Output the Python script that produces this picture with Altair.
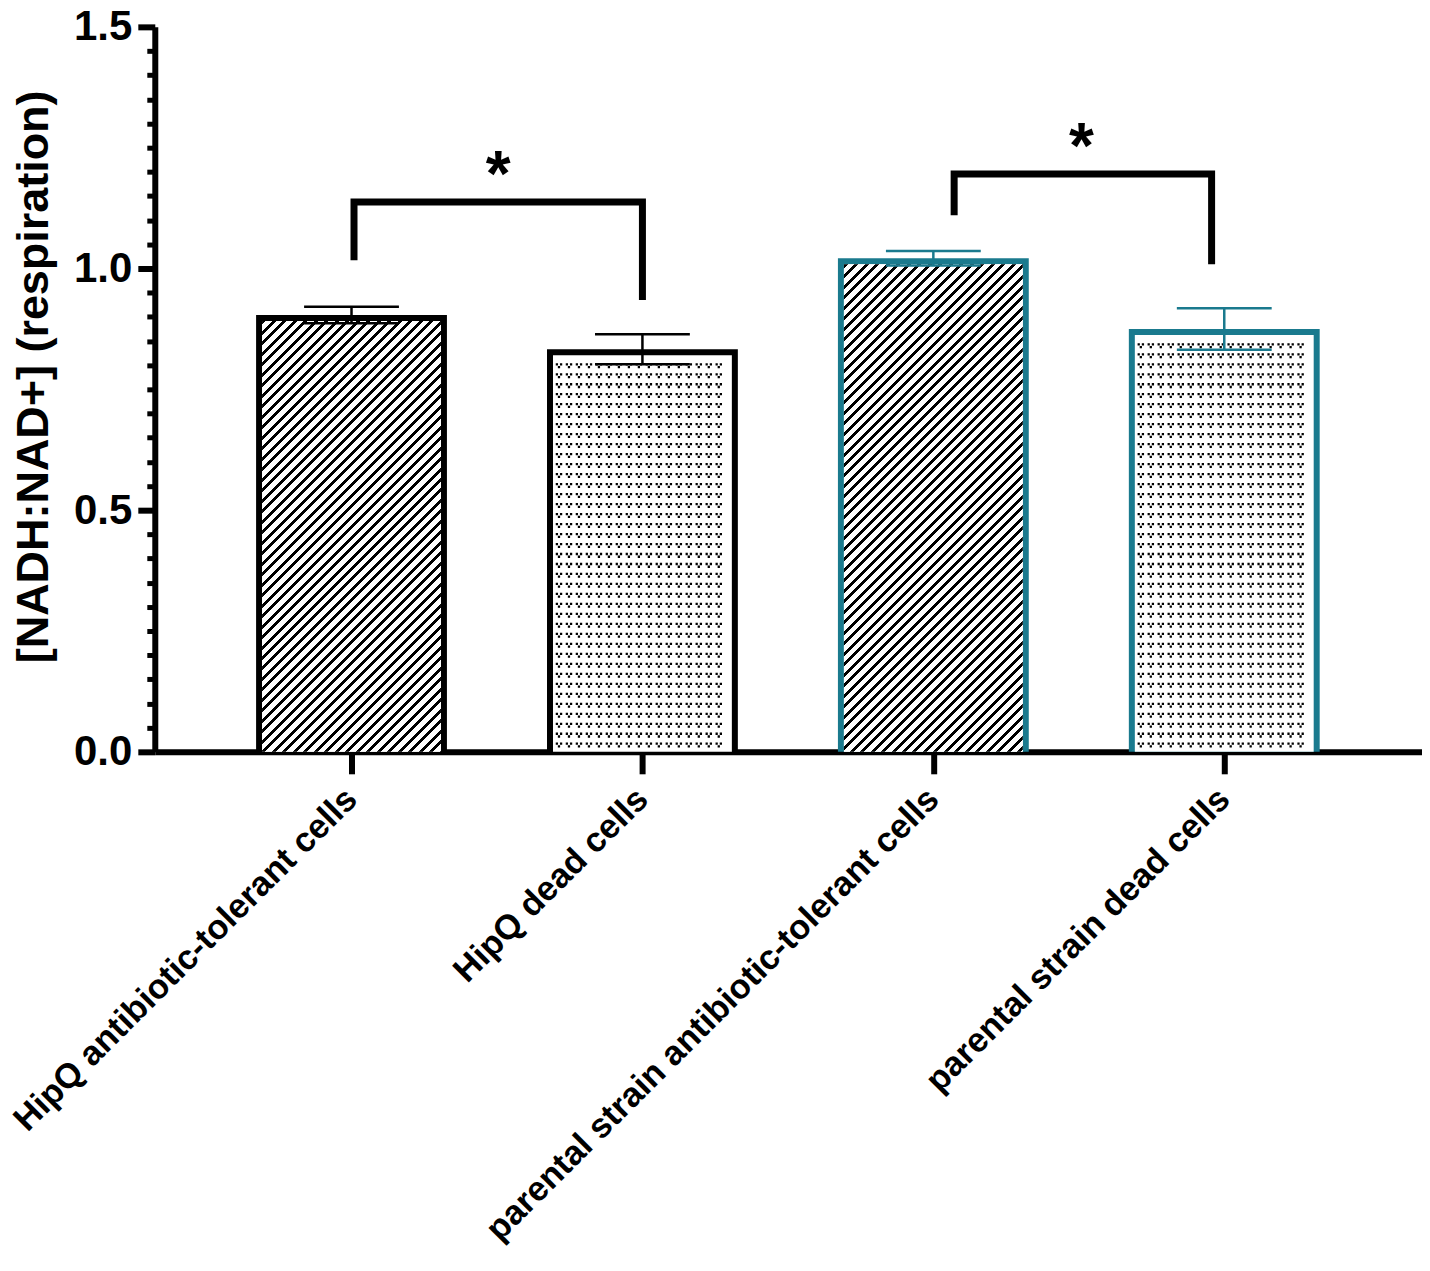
import altair as alt
import pandas as pd
import numpy as np

# ---------------- data ----------------
categories = [
    "HipQ antibiotic-tolerant cells",
    "HipQ dead cells",
    "parental strain antibiotic-tolerant cells",
    "parental strain dead cells",
]
positions = [1, 2, 3, 4]
means = [0.904, 0.833, 1.021, 0.875]
errors = [0.017, 0.031, 0.015, 0.043]
bar_colors = ["#000000", "#000000", "#1a7a8e", "#1a7a8e"]
patterns = ["hatch", "dots", "hatch", "dots"]

bracket_ids = ["a", "b"]
bracket_x_left = [1.0086, 3.0715]
bracket_x_right = [2.0, 3.9565]
bracket_y_top = [1.1374, 1.1957]
bracket_y_left = [1.0172, 1.110]
bracket_y_right = [0.9348, 1.009]
star_x = [1.5046, 3.509]
star_text = ["*", "*"]

y_major = [0.0, 0.5, 1.0, 1.5]
y_minor = [round(i * 0.05, 2) for i in range(31) if i % 10]

# ---------------- layout ----------------
W, H = 1269, 726
XDOM = [0.3238, 4.6797]
YDOM = [0, 1.5]
PXX = W / (XDOM[1] - XDOM[0])
PXY = H / (YDOM[1] - YDOM[0])
BAR_HALF = 0.328
CAP_HALF = 0.163
STROKE = 6
FONT = "Liberation Sans"

xs = alt.Scale(domain=XDOM, nice=False, zero=False)
ys = alt.Scale(domain=YDOM, nice=False, zero=False)

bars = pd.DataFrame({
    "cat": categories, "pos": positions, "mean": means, "err": errors,
    "color": bar_colors, "pattern": patterns,
})
bars["x_lo"] = bars["pos"] - BAR_HALF
bars["x_hi"] = bars["pos"] + BAR_HALF
bars["c_lo"] = bars["pos"] - CAP_HALF
bars["c_hi"] = bars["pos"] + CAP_HALF
bars["e_lo"] = bars["mean"] - bars["err"]
bars["e_hi"] = bars["mean"] + bars["err"]
bars["zero"] = 0.0

label_expr = " : ".join(f"datum.value == {p} ? '{c}'" for p, c in zip(positions, categories)) + " : ''"

x_axis = alt.Axis(
    values=positions, labelExpr=label_expr, title=None, grid=False, orient="bottom",
    domainColor="black", domainWidth=6, tickColor="black", tickWidth=6, tickSize=22,
    labelAngle=-45, labelAlign="right", labelBaseline="middle",
    labelFont=FONT, labelFontSize=34.5, labelFontWeight="bold", labelColor="black",
    labelPadding=20, labelOverlap=False, labelFlush=False, labelBound=False, labelLimit=0,
)
y_axis_major = alt.Axis(
    values=y_major, format=".1f", title="[NADH:NAD+] (respiration)", grid=False, orient="left",
    domainColor="black", domainWidth=6, tickColor="black", tickWidth=6, tickSize=17,
    labelFont=FONT, labelFontSize=42, labelFontWeight="bold", labelColor="black", labelPadding=6,
    titleFont=FONT, titleFontSize=45, titleFontWeight="bold", titleColor="black", titlePadding=17,
    titleY=350, labelOverlap=False, labelFlush=False,
)
y_axis_minor = alt.Axis(
    values=y_minor, labels=False, title=None, grid=False, orient="left", domain=False,
    tickColor="black", tickWidth=5, tickSize=8,
)

base = alt.Chart(bars)

# outer rect (acts as the border colour)
outer = base.mark_rect().encode(
    x=alt.X("x_lo:Q", scale=xs, axis=None),
    x2="x_hi:Q",
    y=alt.Y("mean:Q", scale=ys, axis=y_axis_minor),
    y2="zero:Q",
    fill=alt.Color("color:N", scale=None),
)

# inner white fill for all bars
inner = base.mark_rect(
    fill="white", xOffset=STROKE, x2Offset=-STROKE, yOffset=STROKE
).encode(
    x=alt.X("x_lo:Q", scale=xs, axis=None),
    x2="x_hi:Q",
    y=alt.Y("mean:Q", scale=ys, axis=y_axis_major),
    y2="zero:Q",
)

layers = [outer, inner]

# hatch fills via striped gradient (45 degree lines)
SPACING = 10.5   # horizontal px between hatch lines
LINE = 4.0       # thickness in (x+y) units
for i in range(len(positions)):
    if patterns[i] != "hatch":
        continue
    w = 2 * BAR_HALF * PXX - 2 * STROKE
    h = means[i] * PXY - STROKE
    denom = w * w + h * h
    period = SPACING * w / denom
    thick = LINE * w / denom
    tmax = (w + h) * w / denom
    stops = []
    k = 0
    while k * period <= tmax + period:
        t0 = k * period
        if t0 > 1:
            break
        stops.append({"offset": min(t0, 1.0), "color": "#000000"})
        stops.append({"offset": min(t0 + thick, 1.0), "color": "#000000"})
        stops.append({"offset": min(t0 + thick, 1.0), "color": "#ffffff"})
        stops.append({"offset": min(t0 + period, 1.0), "color": "#ffffff"})
        k += 1
    grad = {"gradient": "linear", "x1": 0, "y1": 0, "x2": 1, "y2": h / w, "stops": stops}
    one = bars.iloc[[i]]
    layers.append(
        alt.Chart(one).mark_rect(
            fill=grad, xOffset=STROKE, x2Offset=-STROKE, yOffset=STROKE
        ).encode(
            x=alt.X("x_lo:Q", scale=xs, axis=None),
            x2="x_hi:Q",
            y=alt.Y("mean:Q", scale=ys, axis=None),
            y2="zero:Q",
        )
    )

# dotted fills: small "v" motifs of three squares
MOTIF = ("M-1,-1H-0.3V-0.3H-1Z M0.3,-1H1V-0.3H0.3Z M-0.35,-0.15H0.35V0.55H-0.35Z")
DOT_STEP = 10
dot_rows = []
for i in range(len(positions)):
    if patterns[i] != "dots":
        continue
    x_lo = positions[i] - BAR_HALF
    x_hi = positions[i] + BAR_HALF
    xv = x_lo + (STROKE + 6) / PXX
    while xv <= x_hi - (STROKE + 5) / PXX:
        yv = 6 / PXY
        while yv <= means[i] - (STROKE + 5) / PXY:
            dot_rows.append({"dx": xv, "dy": yv})
            yv += DOT_STEP / PXY
        xv += DOT_STEP / PXX
dots = alt.Chart(pd.DataFrame(dot_rows)).mark_point(
    shape=MOTIF, filled=True, size=42, color="black", opacity=1, strokeWidth=0
).encode(
    x=alt.X("dx:Q", scale=xs, axis=None),
    y=alt.Y("dy:Q", scale=ys, axis=None),
)
layers.append(dots)

# error bars
err_v = base.mark_rule(strokeWidth=2.5).encode(
    x=alt.X("pos:Q", scale=xs, axis=None),
    y=alt.Y("e_lo:Q", scale=ys, axis=None),
    y2="e_hi:Q",
    color=alt.Color("color:N", scale=None),
)
cap_hi = base.mark_rule(strokeWidth=2.5).encode(
    x=alt.X("c_lo:Q", scale=xs, axis=None),
    x2="c_hi:Q",
    y=alt.Y("e_hi:Q", scale=ys, axis=None),
    color=alt.Color("color:N", scale=None),
)
cap_lo = base.mark_rule(strokeWidth=2.5).encode(
    x=alt.X("c_lo:Q", scale=xs, axis=None),
    x2="c_hi:Q",
    y=alt.Y("e_lo:Q", scale=ys, axis=None),
    color=alt.Color("color:N", scale=None),
)
layers += [err_v, cap_hi, cap_lo]

# significance brackets
br_rows = []
for b, xl, xr, yt, yl, yr in zip(bracket_ids, bracket_x_left, bracket_x_right,
                                  bracket_y_top, bracket_y_left, bracket_y_right):
    br_rows += [
        {"id": b, "o": 0, "bx": xl, "by": yl},
        {"id": b, "o": 1, "bx": xl, "by": yt},
        {"id": b, "o": 2, "bx": xr, "by": yt},
        {"id": b, "o": 3, "bx": xr, "by": yr},
    ]
brackets = alt.Chart(pd.DataFrame(br_rows)).mark_line(
    color="black", strokeWidth=7, strokeJoin="miter", strokeCap="butt"
).encode(
    x=alt.X("bx:Q", scale=xs, axis=None),
    y=alt.Y("by:Q", scale=ys, axis=None),
    detail="id:N",
    order="o:Q",
)
stars = alt.Chart(pd.DataFrame({"sx": star_x, "sy": bracket_y_top, "t": star_text})).mark_text(
    font=FONT, fontSize=64, fontWeight="bold", color="black", baseline="alphabetic",
    align="center", dy=-6,
).encode(
    x=alt.X("sx:Q", scale=xs, axis=None),
    y=alt.Y("sy:Q", scale=ys, axis=None),
    text="t:N",
)
layers += [brackets, stars]

# x axis carrier (drawn last so the axis sits on top of bar bottoms)
x_carrier = base.mark_rule(opacity=0).encode(
    x=alt.X("pos:Q", scale=xs, axis=x_axis),
    y=alt.Y("zero:Q", scale=ys, axis=None),
)
layers.append(x_carrier)

chart = alt.layer(*layers).resolve_axis(y="independent", x="independent").properties(
    width=W, height=H,
    autosize=alt.AutoSizeParams(type="none"),
    padding={"left": 147, "top": 18, "right": 0, "bottom": 508},
    background="white",
).configure_view(stroke=None)

chart.save("out.html", embed_options={"renderer": "svg", "actions": False})
